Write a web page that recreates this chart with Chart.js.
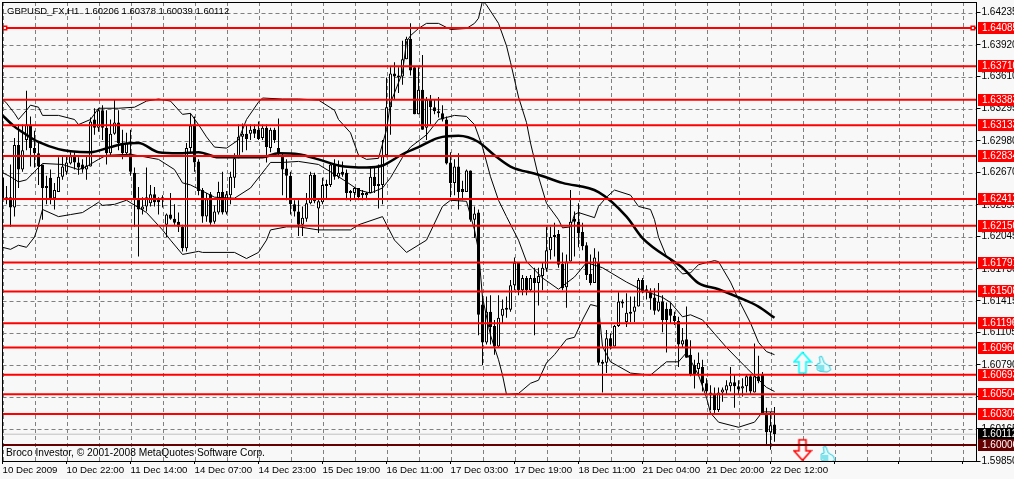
<!DOCTYPE html>
<html><head><meta charset="utf-8">
<style>html,body{margin:0;padding:0;background:#f8f8f8;overflow:hidden}canvas{display:block}</style>
<script src="https://cdn.jsdelivr.net/npm/chart.js@4"></script>
</head><body><canvas id="c" width="1014" height="479"></canvas>
<script>
const timeLabels=['10 Dec 2009','10 Dec 22:00','11 Dec 14:00','14 Dec 07:00','14 Dec 23:00','15 Dec 19:00','16 Dec 11:00','17 Dec 03:00','17 Dec 19:00','18 Dec 11:00','21 Dec 04:00','21 Dec 20:00','22 Dec 12:00'];
const priceTicks=[1.64235,1.6392,1.6361,1.63295,1.6298,1.6267,1.62355,1.62045,1.6173,1.61415,1.61105,1.6079,1.6048,1.60165,1.5985];
const levels=[1.64085,1.6371,1.63383,1.63133,1.62834,1.62412,1.6215,1.61791,1.61508,1.61196,1.6096,1.60693,1.60504,1.60309];
const supportLevel=1.60006;
const bidLevel=1.60112;
const high=[1.6268,1.6254,1.6275,1.6301,1.6314,1.6314,1.6347,1.6322,1.6308,1.6296,1.6275,1.6264,1.627,1.6257,1.6282,1.6284,1.6284,1.6287,1.6287,1.6282,1.628,1.6284,1.6321,1.633,1.633,1.6333,1.6328,1.6319,1.6338,1.6328,1.6309,1.6306,1.6309,1.6272,1.6253,1.6243,1.6272,1.6255,1.6253,1.6243,1.6245,1.6227,1.6247,1.6236,1.6228,1.6216,1.6296,1.6325,1.6322,1.628,1.6252,1.6247,1.6248,1.6235,1.6258,1.6268,1.6249,1.6268,1.6286,1.6314,1.6315,1.6313,1.6314,1.6314,1.6317,1.6314,1.6314,1.6311,1.6311,1.632,1.6286,1.628,1.6268,1.624,1.624,1.6234,1.6247,1.6268,1.6267,1.6242,1.6262,1.626,1.6277,1.628,1.6279,1.6278,1.627,1.625,1.6253,1.6252,1.625,1.6248,1.6273,1.6272,1.6275,1.6299,1.636,1.637,1.6375,1.637,1.6396,1.64,1.6413,1.637,1.637,1.6382,1.6341,1.6343,1.6338,1.6341,1.6333,1.6322,1.6287,1.628,1.6286,1.6259,1.627,1.6269,1.6234,1.6231,1.6147,1.6146,1.6147,1.6123,1.6147,1.6143,1.6146,1.6162,1.6184,1.6179,1.6167,1.6166,1.6167,1.6174,1.6174,1.6179,1.6214,1.6214,1.6218,1.6211,1.6189,1.6187,1.625,1.6229,1.6237,1.6218,1.6199,1.6187,1.6193,1.619,1.6084,1.6113,1.611,1.6118,1.615,1.6143,1.6149,1.6146,1.6146,1.6164,1.6164,1.6157,1.6154,1.6154,1.6159,1.6147,1.614,1.614,1.6131,1.6126,1.6115,1.6136,1.6103,1.6084,1.6091,1.6084,1.6066,1.6059,1.6057,1.6057,1.6057,1.6064,1.6077,1.6069,1.6064,1.6066,1.6069,1.607,1.61,1.6088,1.6072,1.6037,1.6033,1.60378];
const low=[1.6237,1.6236,1.6214,1.6224,1.6252,1.6268,1.6289,1.6273,1.6272,1.6255,1.6221,1.6236,1.6236,1.6231,1.6248,1.626,1.6265,1.6275,1.627,1.6265,1.6267,1.626,1.6273,1.6304,1.6307,1.6299,1.6275,1.6284,1.6304,1.6289,1.628,1.6284,1.6264,1.6214,1.6185,1.6226,1.6229,1.6234,1.6234,1.6226,1.6233,1.6204,1.6221,1.6216,1.6209,1.619,1.619,1.6287,1.6268,1.6245,1.6218,1.6219,1.6216,1.6217,1.6226,1.6226,1.6226,1.6236,1.6252,1.6281,1.6287,1.6289,1.6299,1.6301,1.6299,1.6299,1.6277,1.6287,1.6296,1.6284,1.6245,1.624,1.6226,1.6224,1.6205,1.6205,1.6219,1.6236,1.6237,1.6208,1.6236,1.6242,1.6253,1.626,1.6261,1.6263,1.624,1.6239,1.6242,1.624,1.624,1.624,1.6247,1.6247,1.6232,1.6236,1.6282,1.6304,1.6338,1.6345,1.6353,1.6378,1.6362,1.6324,1.6324,1.6309,1.6299,1.6314,1.6324,1.6321,1.6317,1.6275,1.6243,1.6245,1.6231,1.624,1.6248,1.6219,1.6203,1.6108,1.6079,1.6099,1.6099,1.6089,1.6096,1.612,1.6125,1.6131,1.6152,1.6147,1.6147,1.6147,1.6151,1.6108,1.6137,1.6152,1.617,1.6182,1.6185,1.6174,1.6152,1.6135,1.618,1.6185,1.6194,1.6191,1.6162,1.6157,1.6159,1.6079,1.6052,1.6071,1.6094,1.6097,1.6116,1.6135,1.6116,1.6121,1.6121,1.6136,1.6149,1.6143,1.6133,1.6128,1.6131,1.6111,1.6091,1.612,1.6118,1.6077,1.6096,1.6086,1.6068,1.6056,1.6068,1.6053,1.605,1.6035,1.6032,1.6033,1.6043,1.605,1.6053,1.6037,1.605,1.6048,1.6052,1.605,1.6052,1.6061,1.603,1.6001,1.5996,1.60039];
const open=[1.6262,1.6243,1.6243,1.6233,1.6294,1.627,1.6299,1.6313,1.6291,1.6286,1.6275,1.6252,1.6262,1.6242,1.6248,1.6263,1.6268,1.6276,1.6284,1.6277,1.6275,1.627,1.6273,1.6319,1.6311,1.6328,1.6311,1.6286,1.6305,1.6316,1.6294,1.6286,1.6286,1.6267,1.6242,1.6231,1.6234,1.6237,1.6246,1.6241,1.6243,1.6216,1.6226,1.6222,1.6219,1.6214,1.6193,1.6291,1.6314,1.6278,1.625,1.6224,1.6246,1.6219,1.6228,1.6248,1.6228,1.6245,1.6262,1.6281,1.6302,1.6305,1.6305,1.631,1.6309,1.6301,1.6311,1.6291,1.6309,1.6291,1.6284,1.6271,1.6264,1.6236,1.6229,1.6216,1.6222,1.6237,1.6265,1.6232,1.6238,1.6254,1.6255,1.6275,1.6263,1.6268,1.6267,1.6249,1.6247,1.6252,1.6247,1.6245,1.6247,1.6263,1.6254,1.6255,1.6284,1.6331,1.6364,1.6362,1.6361,1.6378,1.6398,1.637,1.6324,1.6348,1.6311,1.6339,1.6331,1.6327,1.6325,1.6319,1.6277,1.6257,1.6273,1.6251,1.6248,1.6269,1.6221,1.6228,1.6138,1.6101,1.6131,1.6117,1.6097,1.6127,1.6135,1.6133,1.6157,1.6179,1.6152,1.6164,1.6152,1.6164,1.6159,1.6166,1.6173,1.6191,1.6204,1.6207,1.6178,1.6155,1.618,1.6222,1.6219,1.6209,1.6196,1.6168,1.6159,1.6179,1.6082,1.6081,1.6105,1.6097,1.6117,1.6141,1.6121,1.6129,1.6131,1.6136,1.6162,1.6153,1.615,1.6145,1.6132,1.6141,1.6134,1.6134,1.6127,1.6122,1.6099,1.6104,1.6089,1.6079,1.6075,1.6077,1.6061,1.6052,1.605,1.6035,1.6052,1.6054,1.6058,1.6062,1.6058,1.6056,1.6058,1.6068,1.6052,1.6068,1.6069,1.6032,1.6013,1.60206];
const close=[1.6242,1.624,1.6233,1.6294,1.627,1.6289,1.6314,1.6291,1.6286,1.6273,1.6252,1.6254,1.6242,1.625,1.6263,1.6273,1.6277,1.6283,1.6277,1.6272,1.627,1.6274,1.6317,1.6311,1.6328,1.6311,1.6286,1.6305,1.6316,1.6296,1.6286,1.6296,1.6268,1.6242,1.6231,1.6234,1.6243,1.6246,1.6238,1.6238,1.6241,1.6226,1.6222,1.6218,1.6214,1.6193,1.6291,1.6313,1.6277,1.6249,1.6224,1.6241,1.6218,1.6229,1.6248,1.6228,1.6246,1.6263,1.6281,1.6302,1.6305,1.63,1.6309,1.6305,1.63,1.6311,1.6292,1.6309,1.6299,1.6285,1.627,1.6264,1.6236,1.6229,1.6216,1.6223,1.6237,1.6265,1.6239,1.6239,1.6255,1.6256,1.6275,1.6263,1.6267,1.6265,1.6247,1.6247,1.6252,1.6243,1.6245,1.6247,1.6263,1.6254,1.6256,1.6283,1.6331,1.6364,1.6361,1.636,1.6378,1.6398,1.6367,1.6324,1.6348,1.6309,1.6338,1.6331,1.6327,1.6325,1.6319,1.6276,1.6257,1.6273,1.6248,1.6248,1.6269,1.6221,1.6227,1.6128,1.6101,1.6131,1.6116,1.6097,1.6125,1.6134,1.6133,1.6157,1.6179,1.6152,1.6164,1.6152,1.6164,1.6159,1.6166,1.6174,1.6191,1.6204,1.6206,1.6177,1.6154,1.618,1.6219,1.6219,1.6208,1.6195,1.6167,1.6159,1.6184,1.6081,1.608,1.6105,1.6097,1.6117,1.6141,1.6139,1.613,1.6131,1.6136,1.6162,1.615,1.615,1.6144,1.6132,1.6141,1.6123,1.6123,1.6127,1.6122,1.6099,1.6103,1.6086,1.6069,1.6069,1.6081,1.6061,1.6053,1.6049,1.6035,1.6052,1.6055,1.6059,1.6062,1.6058,1.6055,1.6058,1.6068,1.6053,1.6068,1.6063,1.6032,1.6013,1.602,1.60112];
const upperBars=[0,1,3,4,6,7,9,10,14,18,19,22,24,29,33,36,39,42,45,47,49,51,53,56,59,61,64,65,70,74,79,83,84,87,89,91,94,96,97,100,101,102,104,106,109,112,116,118,119,120,121,124,126,127,129,131,132,134,136,139,140,142,143,144,148,149,151,153,157,159,162,163,164,166,168,169,170,172,174,178,179,182,184,187,189,191,193];
const upperBand=[1.6339,1.6335,1.6325,1.6319,1.6328,1.6333,1.6331,1.6323,1.6323,1.6319,1.6314,1.6319,1.633,1.633,1.6331,1.6337,1.6339,1.6337,1.6324,1.6325,1.6314,1.6302,1.6292,1.6291,1.6299,1.6319,1.6336,1.634,1.6339,1.6339,1.6338,1.6328,1.6319,1.6306,1.6284,1.628,1.6281,1.6309,1.6335,1.6365,1.6395,1.6401,1.6408,1.6413,1.6413,1.6407,1.6408,1.6413,1.6418,1.6435,1.6431,1.6413,1.6391,1.6375,1.6341,1.6316,1.6296,1.6263,1.6237,1.6221,1.6213,1.6214,1.6226,1.6228,1.6223,1.6234,1.6243,1.625,1.6245,1.6234,1.6231,1.6221,1.6204,1.6185,1.6177,1.6172,1.6168,1.6169,1.6177,1.6181,1.618,1.616,1.6143,1.612,1.6101,1.6092,1.6089];
const middleBars=[0,2,4,6,8,10,15,19,21,24,26,32,39,43,45,47,53,58,62,66,67,70,74,79,84,86,89,92,95,97,100,102,106,109,113,116,118,120,122,124,126,129,131,135,139,143,146,150,156,160,165,167,170,172,175,179,181,186,191,193];
const middleBand=[1.6267,1.6263,1.6258,1.626,1.6268,1.6276,1.6275,1.627,1.6273,1.628,1.6284,1.6285,1.628,1.627,1.6257,1.6255,1.6243,1.6242,1.6252,1.6272,1.6277,1.6277,1.6278,1.6275,1.6263,1.6258,1.625,1.6247,1.6252,1.6262,1.6282,1.6292,1.6304,1.6319,1.6323,1.6322,1.6314,1.6292,1.6263,1.624,1.6224,1.6201,1.618,1.6164,1.6153,1.6165,1.6179,1.6174,1.616,1.6152,1.6145,1.614,1.6126,1.6128,1.6123,1.6105,1.6096,1.6076,1.6057,1.6053];
const lowerBars=[0,2,4,6,8,9,10,14,17,20,24,25,28,31,36,40,42,45,49,50,58,61,64,66,67,71,74,79,87,89,95,98,101,106,110,112,116,118,119,120,122,124,125,126,129,132,134,136,138,141,143,145,147,149,150,152,157,162,166,169,171,174,176,177,179,184,188,190,193];
const lowerBand=[1.6194,1.6192,1.6196,1.6194,1.6204,1.6216,1.6231,1.6224,1.6226,1.6228,1.6238,1.6235,1.6236,1.624,1.6228,1.6211,1.6201,1.6187,1.619,1.6189,1.6189,1.6183,1.6189,1.6201,1.6211,1.6214,1.6214,1.6211,1.6211,1.6216,1.6224,1.6201,1.6189,1.6201,1.6234,1.624,1.6239,1.6211,1.6191,1.6145,1.6108,1.6084,1.6069,1.605,1.6051,1.6061,1.6064,1.6081,1.6089,1.6104,1.6106,1.6123,1.6138,1.6136,1.6097,1.6082,1.6071,1.6069,1.6082,1.6082,1.6091,1.6069,1.6047,1.6032,1.6023,1.6018,1.6023,1.6033,1.6033];
const maBars=[0,3,6,9,14,17,22,27,30,34,39,44,49,54,59,65,69,74,79,84,91,95,100,104,109,114,119,123,127,134,140,149,156,160,169,170,174,179,184,189,193];
const maLine=[1.6323,1.6312,1.6304,1.6297,1.629,1.6288,1.6287,1.6292,1.6295,1.6296,1.6287,1.6286,1.6287,1.6282,1.6282,1.6282,1.6286,1.6285,1.628,1.6274,1.6272,1.6274,1.6285,1.6292,1.6301,1.6303,1.6297,1.6284,1.6273,1.6265,1.6257,1.6248,1.6224,1.6203,1.6177,1.6174,1.6159,1.6153,1.6145,1.6136,1.6125];
const arrowBar=200, arrowUp=1.6081, arrowDown=1.5996;
const thumbBars=[205.2,206.2], thumbPrices=[1.608,1.5992];
const xMax=243.5, yMin=1.5985, yMax=1.64339;

const FONT='"Liberation Sans", Arial, sans-serif';
const GRID='#808080';
const idx=high.map((_,i)=>i);
const zip=(xs,ys)=>xs.map((x,i)=>({x,y:ys[i]}));
const noPad=s=>{s.paddingLeft=0;s.paddingRight=0;s.paddingTop=0;s.paddingBottom=0;};
function hline(v,color,w){return {type:'line',data:[{x:0,y:v},{x:xMax,y:v}],borderColor:color,borderWidth:w,pointRadius:0,order:0};}
function thin(xs,ys){return {type:'line',data:zip(xs,ys),borderColor:'#000',borderWidth:1,pointRadius:0,tension:0,order:3};}
function makeArrow(up){
  const c=document.createElement('canvas');c.width=20;c.height=24;const g=c.getContext('2d');
  if(!up){g.translate(0,24);g.scale(1,-1);}
  g.beginPath();g.moveTo(10,1.5);g.lineTo(1.5,11);g.lineTo(6.5,11);g.lineTo(6.5,22);g.lineTo(13.5,22);g.lineTo(13.5,11);g.lineTo(18.5,11);g.closePath();
  g.fillStyle='#f8f8f8';g.fill();g.lineWidth=1.6;g.strokeStyle=up?'#00ffff':'#ff0000';g.stroke();return c;
}
function makeThumb(){
  const c=document.createElement('canvas');c.width=18;c.height=18;const g=c.getContext('2d');
  g.strokeStyle='#22ccdd';g.fillStyle='#e4fbfd';g.lineWidth=1;
  g.beginPath();g.moveTo(3,9);g.lineTo(6,8);g.lineTo(5,2);g.lineTo(7.5,1.5);g.lineTo(10,8);g.lineTo(15,11);g.lineTo(16.5,15);g.lineTo(13,17);g.lineTo(6,16.5);g.lineTo(3,15);g.closePath();g.fill();g.stroke();
  g.beginPath();g.moveTo(4,11);g.lineTo(10,11);g.moveTo(4,13);g.lineTo(10,13);g.moveTo(5,15);g.lineTo(10,15);g.stroke();return c;
}
const framePlugin={id:'frame',
 beforeDatasetsDraw(ch){
  const g=ch.ctx,a=ch.chartArea,xs=ch.scales.x,ys=ch.scales.y;
  g.save();g.strokeStyle=GRID;g.lineWidth=1;g.setLineDash([4,3]);g.beginPath();
  xs.ticks.forEach(t=>{const p=Math.round(xs.getPixelForValue(t.value))+0.5;g.moveTo(p,a.top);g.lineTo(p,a.bottom);});
  ys.ticks.forEach(t=>{const p=Math.round(ys.getPixelForValue(t.value))+0.5;g.moveTo(a.left,p);g.lineTo(a.right,p);});
  g.stroke();g.restore();
 },
 afterDraw(ch){
  const g=ch.ctx,a=ch.chartArea,y=ch.scales.y;
  g.save();g.strokeStyle='#000';g.lineWidth=1;g.strokeRect(a.left,a.top+0.5,a.right-a.left,a.bottom-a.top);
  g.textBaseline='middle';g.textAlign='left';
  g.font='10px '+FONT;
  const tag=(v,bg,fg)=>{const p=y.getPixelForValue(v);g.fillStyle=bg;g.fillRect(978,Math.round(p)-6,36,12);g.fillStyle=fg;g.fillText(v.toFixed(5),982,Math.round(p)+0.5);};
  levels.forEach(v=>tag(v,'#ff0000','#ffffff'));
  tag(bidLevel,'#000000','#ffffff');
  tag(supportLevel,'#660000','#ffffff');
  g.fillStyle='#000';
  g.font='9.5px '+FONT;
  g.fillText('GBPUSD_FX,H1  1.60206 1.60378 1.60039 1.60112',7,11);
  g.font='10.2px '+FONT;
  g.fillText('Broco Investor, © 2001-2008 MetaQuotes Software Corp.',6,453);
  g.restore();
 }};
new Chart(document.getElementById('c'),{
 type:'bar',
 data:{datasets:[
  ...levels.map(v=>hline(v,'#ff0000',2)),
  hline(supportLevel,'#660000',2),
  {type:'line',data:[{x:0,y:bidLevel},{x:xMax,y:bidLevel}],borderColor:'#c0c0c0',borderWidth:1,pointRadius:0,order:6},
  {type:'scatter',data:[{x:0.6,y:levels[0]},{x:242.6,y:levels[0]}],pointStyle:'rect',pointRadius:2.5,pointBackgroundColor:'#fff',pointBorderColor:'#ff0000',pointBorderWidth:1.5,order:-1},
  {type:'scatter',data:[{x:arrowBar,y:arrowUp}],pointStyle:makeArrow(true),order:1},
  {type:'scatter',data:[{x:arrowBar,y:arrowDown}],pointStyle:makeArrow(false),order:1},
  {type:'scatter',data:zip(thumbBars,thumbPrices),pointStyle:makeThumb(),order:1},
  {type:'line',data:zip(maBars,maLine),borderColor:'#000',borderWidth:2.5,pointRadius:0,cubicInterpolationMode:'monotone',order:2},
  thin(upperBars,upperBand),thin(middleBars,middleBand),thin(lowerBars,lowerBand),
  {type:'bar',data:idx.map(i=>({x:i,y:[Math.min(open[i],close[i]),Math.max(open[i],close[i])]})),barThickness:3,grouped:false,
   backgroundColor:idx.map(i=>close[i]>=open[i]?'#ffffff':'#000000'),borderColor:'#000',borderWidth:1,borderSkipped:false,inflateAmount:0,order:4},
  {type:'bar',data:idx.map(i=>({x:i,y:[low[i],high[i]]})),barThickness:1,grouped:false,backgroundColor:'#000',borderWidth:0,inflateAmount:0,order:5}
 ]},
 options:{responsive:false,animation:false,devicePixelRatio:1,
  layout:{autoPadding:false,padding:{left:2.5,top:2,right:0,bottom:0}},
  plugins:{legend:{display:false},tooltip:{enabled:false}},
  scales:{
   x:{type:'linear',min:0,max:xMax,offset:false,
    afterBuildTicks(s){const t=[];for(let v=0;v<=240;v+=8)t.push({value:v});s.ticks=t;},
    afterFit(s){s.height=18;noPad(s);},
    grid:{offset:false,drawOnChartArea:false,tickLength:3,drawTicks:true,tickColor:c=>c.tick&&c.tick.value%16===0?'#000':'rgba(0,0,0,0)'},
    border:{color:'#000',width:1},
    ticks:{autoSkip:false,maxRotation:0,align:'start',padding:1,color:'#000',font:{family:FONT,size:9.7},
     callback:v=>v%16===0?(timeLabels[v/16]||''):''}},
   y:{type:'linear',position:'right',min:yMin,max:yMax,
    afterBuildTicks(s){s.ticks=priceTicks.map(v=>({value:v}));},
    afterFit(s){s.width=37.5;noPad(s);},
    grid:{drawOnChartArea:false,tickLength:4,tickColor:'#000'},
    border:{color:'#000',width:1},
    ticks:{autoSkip:false,padding:1,color:'#000',font:{family:FONT,size:10},callback:v=>v.toFixed(5)}}
  }},
 plugins:[framePlugin]
});
</script></body></html>
